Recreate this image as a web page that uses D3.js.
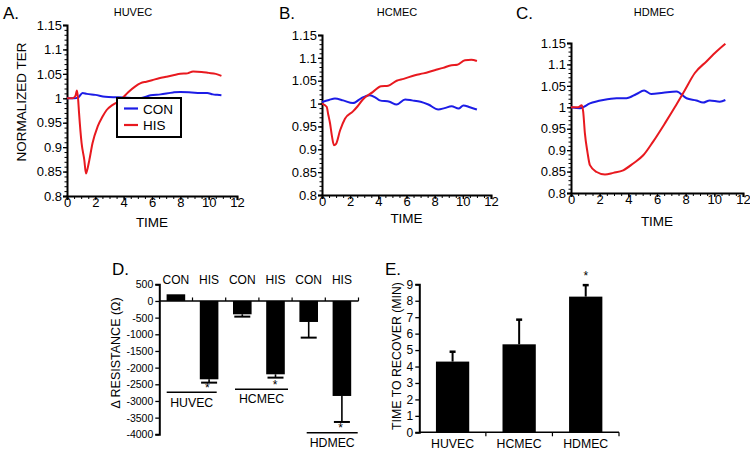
<!DOCTYPE html>
<html><head><meta charset="utf-8">
<script src="https://cdn.jsdelivr.net/npm/d3@7"></script>
<style>
body{margin:0;background:#fff}
svg{display:block}
text{font-family:"Liberation Sans",Arial,Helvetica,sans-serif;fill:#000}
</style>
</head><body><svg id="c" width="750" height="453"></svg>
<script>
// ---------- DATA ----------
const timeXTicks = [0, 2, 4, 6, 8, 10, 12];
const timeYTicks = [0.8, 0.85, 0.9, 0.95, 1, 1.05, 1.1, 1.15];
const timeYTickLabels = ["0.8", "0.85", "0.9", "0.95", "1", "1.05", "1.1", "1.15"];

// Panel A – HUVEC
const huvecHisT = [0, 0.4, 0.6, 0.7, 0.78, 0.85, 1.03, 1.22, 1.34, 1.45, 1.58, 1.8, 2.16, 2.5, 2.8, 3.2, 3.6, 3.9, 4.3, 4.8, 5.2, 5.6, 6.0, 6.5, 7.0, 7.5, 8.0, 8.5, 8.9, 9.5, 10.0, 10.5, 10.9];
const huvecHisV = [1.0, 1.0, 1.005, 1.016, 1.0, 0.97, 0.908, 0.874, 0.846, 0.856, 0.874, 0.908, 0.942, 0.962, 0.976, 0.986, 0.993, 1.0, 1.012, 1.024, 1.031, 1.034, 1.037, 1.041, 1.044, 1.047, 1.05, 1.051, 1.055, 1.054, 1.052, 1.05, 1.046];
const huvecConT = [0, 0.5, 0.8, 1.1, 1.4, 2.0, 2.7, 3.6, 4.3, 5.15, 5.9, 6.6, 7.5, 8.0, 8.8, 9.4, 9.9, 10.3, 10.6, 10.9];
const huvecConV = [1.0, 1.0, 1.002, 1.011, 1.009, 1.007, 1.003, 1.002, 1.001, 1.0, 1.006, 1.008, 1.012, 1.013, 1.012, 1.011, 1.011, 1.008, 1.007, 1.006];

// Panel B – HCMEC
const hcmecHisT = [0, 0.33, 0.45, 0.57, 0.7, 0.85, 1.0, 1.28, 1.63, 2.2, 2.5, 2.9, 3.6, 4.2, 4.7, 5.3, 5.8, 6.6, 7.2, 8.0, 8.6, 9.2, 9.6, 10.15, 10.6, 11.0];
const hcmecHisV = [1.0, 0.993, 0.975, 0.957, 0.93, 0.909, 0.912, 0.941, 0.967, 0.983, 0.993, 1.009, 1.025, 1.038, 1.039, 1.05, 1.054, 1.062, 1.066, 1.073, 1.078, 1.084, 1.085, 1.095, 1.096, 1.093];
const hcmecConT = [0, 0.5, 0.92, 1.5, 2.2, 2.8, 3.4, 3.8, 4.1, 4.8, 5.3, 5.9, 6.4, 7.0, 7.55, 8.26, 8.7, 9.2, 9.7, 10.04, 10.5, 11.0];
const hcmecConV = [1.0035, 1.008, 1.011, 1.007, 1.001, 1.012, 1.018, 1.013, 1.007, 1.004, 0.998, 1.009, 1.007, 1.004, 0.998, 0.987, 0.99, 0.994, 0.989, 0.996, 0.992, 0.987];

// Panel C – HDMEC
const hdmecHisT = [0, 0.5, 0.75, 0.85, 0.97, 1.15, 1.32, 1.79, 2.37, 2.95, 3.64, 4.34, 5.04, 5.73, 6.55, 7.24, 7.94, 8.64, 9.45, 10.15, 10.77];
const hdmecHisV = [1.0, 1.0, 1.005, 0.99, 0.939, 0.895, 0.865, 0.849, 0.843, 0.847, 0.853, 0.869, 0.888, 0.92, 0.9625, 1.0, 1.04, 1.08, 1.107, 1.13, 1.148];
const hdmecConT = [0, 0.63, 1.32, 2.25, 3.18, 3.87, 4.57, 5.1, 5.6, 6.43, 7.36, 8.06, 8.75, 9.21, 9.68, 10.38, 10.77];
const hdmecConV = [1.0, 0.998, 1.009, 1.017, 1.021, 1.021, 1.031, 1.039, 1.031, 1.034, 1.037, 1.021, 1.016, 1.011, 1.016, 1.013, 1.017];

// Panel D – delta resistance
const dCategories = ["CON", "HIS", "CON", "HIS", "CON", "HIS"];
const dValues = [200, -2350, -400, -2200, -630, -2850];
const dErrors = [0, 100, 70, 100, 470, 780];
const dGroups = ["HUVEC", "HCMEC", "HDMEC"];
const dTicks = [500, 0, -500, -1000, -1500, -2000, -2500, -3000, -3500, -4000];

// Panel E – time to recover
const eCategories = ["HUVEC", "HCMEC", "HDMEC"];
const eValues = [4.3, 5.35, 8.25];
const eErrors = [0.6, 1.5, 0.7];
const eTicks = [0, 1, 2, 3, 4, 5, 6, 7, 8, 9];

// ---------- DRAW ----------
const svg = d3.select("#c");
const RED = "#e8191f", BLUE = "#1c1ce6";
const zip = (t, v) => t.map((d, i) => [d, v[i]]);

function styleAxis(sel, w) {
  sel.select(".domain").attr("stroke", "#000").attr("stroke-width", w);
  sel.selectAll(".tick line").attr("stroke", "#000").attr("stroke-width", 1.3);
}

function timePanel(c) {
  const x = d3.scaleLinear().domain([0, 12]).range([c.x0, c.x1]);
  const y = d3.scaleLinear().domain([0.8, 1.15]).range([c.yb, c.yt]);
  const g = svg.append("g");
  g.append("g").attr("transform", `translate(${c.x0},0)`)
    .call(d3.axisLeft(y).tickValues(d3.range(80, 116).map(d => d / 100)).tickSize(2.5).tickFormat(""))
    .call(s => { s.select(".domain").remove(); s.selectAll("line").attr("stroke-width", 1); });
  g.append("g").attr("transform", `translate(0,${c.yb})`)
    .call(d3.axisBottom(x).tickValues(d3.range(0, 25).map(d => d / 2)).tickSize(3).tickFormat(""))
    .call(s => { s.select(".domain").remove(); s.selectAll("line").attr("stroke-width", 1); });
  g.append("g").attr("transform", `translate(${c.x0},0)`)
    .call(d3.axisLeft(y).tickValues(timeYTicks).tickSizeOuter(0).tickSize(4).tickPadding(1)
      .tickFormat((d, i) => timeYTickLabels[i]))
    .call(s => { styleAxis(s, 2); s.selectAll("text").attr("font-size", 13).attr("font-family", "Liberation Sans, Arial"); });
  g.append("g").attr("transform", `translate(0,${c.yb})`)
    .call(d3.axisBottom(x).tickValues(timeXTicks).tickSizeOuter(0).tickSize(4).tickPadding(-2))
    .call(s => { styleAxis(s, 2); s.selectAll("text").attr("font-size", 13).attr("font-family", "Liberation Sans, Arial"); });

  const line = d3.line().x(d => x(d[0])).y(d => y(d[1])).curve(d3.curveMonotoneX);
  g.append("path").datum(zip(c.conT, c.conV)).attr("d", line)
    .attr("fill", "none").attr("stroke", BLUE).attr("stroke-width", 2);
  g.append("path").datum(zip(c.hisT, c.hisV)).attr("d", line)
    .attr("fill", "none").attr("stroke", RED).attr("stroke-width", 2);

  g.append("text").attr("x", c.titleX).attr("y", 16).attr("text-anchor", "middle")
    .attr("font-size", 11).text(c.title);
  g.append("text").attr("x", c.letterX).attr("y", 19).attr("font-size", 17).text(c.letter);
  g.append("text").attr("x", (c.x0 + c.x1) / 2).attr("y", c.timeY).attr("text-anchor", "middle")
    .attr("font-size", 13.5).text("TIME");
  return g;
}

timePanel({x0: 67, x1: 237, yt: 25, yb: 196, conT: huvecConT, conV: huvecConV,
  hisT: huvecHisT, hisV: huvecHisV, title: "HUVEC", titleX: 133, letter: "A.", letterX: 3, timeY: 227});
timePanel({x0: 322, x1: 491, yt: 35, yb: 195, conT: hcmecConT, conV: hcmecConV,
  hisT: hcmecHisT, hisV: hcmecHisV, title: "HCMEC", titleX: 397, letter: "B.", letterX: 279, timeY: 223});
timePanel({x0: 571, x1: 743, yt: 43, yb: 193, conT: hdmecConT, conV: hdmecConV,
  hisT: hdmecHisT, hisV: hdmecHisV, title: "HDMEC", titleX: 654, letter: "C.", letterX: 516, timeY: 226});

svg.append("text").attr("transform", "translate(26,102) rotate(-90)").attr("text-anchor", "middle")
  .attr("font-size", 13.5).text("NORMALIZED TER");

const lg = svg.append("g");
lg.append("rect").attr("x", 117).attr("y", 98).attr("width", 64).attr("height", 39)
  .attr("fill", "#fff").attr("stroke", "#000").attr("stroke-width", 2);
[["CON", BLUE, 108.5], ["HIS", RED, 125]].forEach(([t, col, yy]) => {
  lg.append("line").attr("x1", 124).attr("x2", 138).attr("y1", yy).attr("y2", yy)
    .attr("stroke", col).attr("stroke-width", 2.2);
  lg.append("text").attr("x", 143).attr("y", yy + 5).attr("font-size", 13.5).text(t);
});

// ---------- Panel D ----------
{
  const x = d3.scaleBand().domain(d3.range(dCategories.length)).range([159.3, 358.5])
    .paddingInner(0.44).paddingOuter(0.22);
  const y = d3.scaleLinear().domain([-4000, 500]).range([434.3, 284.3]);
  const g = svg.append("g");
  g.append("g").attr("transform", "translate(159.3,0)")
    .call(d3.axisLeft(y).tickValues(dTicks).tickSizeOuter(0).tickSize(4).tickPadding(2).tickFormat(d => String(d)))
    .call(s => { styleAxis(s, 2); s.selectAll("text").attr("font-size", 10.5).attr("font-family", "Liberation Sans, Arial"); });
  g.append("line").attr("x1", 159.3).attr("x2", 358.5).attr("y1", y(0)).attr("y2", y(0))
    .attr("stroke", "#000").attr("stroke-width", 1.6);
  const step = x.step();
  d3.range(1, dCategories.length + 1).forEach(i => {
    const xx = 159.3 + step * i;
    g.append("line").attr("x1", xx).attr("x2", xx).attr("y1", y(0)).attr("y2", y(0) - 3.5)
      .attr("stroke", "#000").attr("stroke-width", 1.2);
  });
  g.selectAll("rect.bar").data(dValues).join("rect").attr("class", "bar")
    .attr("x", (d, i) => x(i)).attr("width", x.bandwidth())
    .attr("y", d => y(Math.max(0, d))).attr("height", d => Math.abs(y(d) - y(0)))
    .attr("fill", "#000");
  dValues.forEach((v, i) => {
    if (!dErrors[i]) return;
    const cx = x(i) + x.bandwidth() / 2;
    const e = v < 0 ? v - dErrors[i] : v + dErrors[i];
    g.append("line").attr("x1", cx).attr("x2", cx).attr("y1", y(v)).attr("y2", y(e))
      .attr("stroke", "#000").attr("stroke-width", 1.6);
    g.append("line").attr("x1", cx - 8).attr("x2", cx + 8).attr("y1", y(e)).attr("y2", y(e))
      .attr("stroke", "#000").attr("stroke-width", 2);
  });
  dCategories.forEach((c, i) => {
    g.append("text").attr("x", x(i) + x.bandwidth() / 2).attr("y", 283.5).attr("text-anchor", "middle")
      .attr("font-size", 12).text(c);
  });
  const gl = [
    {x1: 166.7, x2: 216.7, ly: 392.3, ty: 407, ax: 207.3, ay: 392},
    {x1: 235, x2: 288, ly: 389.3, ty: 402.5, ax: 275, ay: 389},
    {x1: 306.7, x2: 357.7, ly: 432.7, ty: 446.5, ax: 340.7, ay: 431.5}
  ];
  dGroups.forEach((name, i) => {
    const p = gl[i];
    g.append("line").attr("x1", p.x1).attr("x2", p.x2).attr("y1", p.ly).attr("y2", p.ly)
      .attr("stroke", "#000").attr("stroke-width", 1.6);
    g.append("text").attr("x", (p.x1 + p.x2) / 2).attr("y", p.ty).attr("text-anchor", "middle")
      .attr("font-size", 12.3).text(name);
    g.append("text").attr("x", p.ax).attr("y", p.ay).attr("text-anchor", "middle")
      .attr("font-size", 12).text("*");
  });
  g.append("text").attr("transform", "translate(120,353) rotate(-90)").attr("text-anchor", "middle")
    .attr("font-size", 12.5).text("\u0394 RESISTANCE (\u03A9)");
  g.append("text").attr("x", 112).attr("y", 275).attr("font-size", 17).text("D.");
}

// ---------- Panel E ----------
{
  const x = d3.scaleBand().domain(eCategories).range([419.3, 619]).paddingInner(0.5).paddingOuter(0.25);
  const y = d3.scaleLinear().domain([0, 9]).range([432.3, 284.3]);
  const g = svg.append("g");
  g.append("g").attr("transform", "translate(419.3,0)")
    .call(d3.axisLeft(y).tickValues(eTicks).tickSizeOuter(0).tickSize(4).tickPadding(2))
    .call(s => { styleAxis(s, 2); s.selectAll("text").attr("font-size", 12).attr("font-family", "Liberation Sans, Arial"); });
  g.append("line").attr("x1", 419.3).attr("x2", 619).attr("y1", y(0)).attr("y2", y(0))
    .attr("stroke", "#000").attr("stroke-width", 1.6);
  const step = x.step();
  [1, 2, 3].forEach(i => {
    const xx = 419.3 + step * i;
    g.append("line").attr("x1", xx).attr("x2", xx).attr("y1", y(0)).attr("y2", y(0) + 4)
      .attr("stroke", "#000").attr("stroke-width", 1.2);
  });
  g.selectAll("rect.bar").data(eValues).join("rect").attr("class", "bar")
    .attr("x", (d, i) => x(eCategories[i])).attr("width", x.bandwidth())
    .attr("y", d => y(d)).attr("height", d => y(0) - y(d)).attr("fill", "#000");
  eValues.forEach((v, i) => {
    const cx = x(eCategories[i]) + x.bandwidth() / 2;
    g.append("line").attr("x1", cx).attr("x2", cx).attr("y1", y(v)).attr("y2", y(v + eErrors[i]))
      .attr("stroke", "#000").attr("stroke-width", 2);
    g.append("line").attr("x1", cx - 3).attr("x2", cx + 3).attr("y1", y(v + eErrors[i])).attr("y2", y(v + eErrors[i]))
      .attr("stroke", "#000").attr("stroke-width", 2.5);
  });
  eCategories.forEach(c => {
    g.append("text").attr("x", x(c) + x.bandwidth() / 2).attr("y", 447.5).attr("text-anchor", "middle")
      .attr("font-size", 12.3).text(c);
  });
  g.append("text").attr("x", x("HDMEC") + x.bandwidth() / 2).attr("y", 280).attr("text-anchor", "middle")
    .attr("font-size", 12).text("*");
  g.append("text").attr("transform", "translate(401,356) rotate(-90)").attr("text-anchor", "middle")
    .attr("font-size", 12.3).text("TIME TO RECOVER (MIN)");
  g.append("text").attr("x", 385).attr("y", 275).attr("font-size", 17).text("E.");
}
</script></body></html>
